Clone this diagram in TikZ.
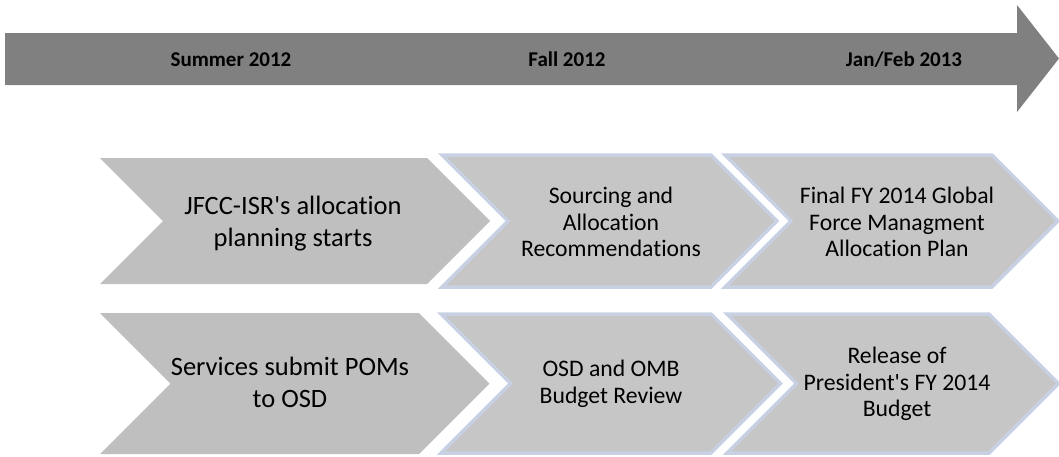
\documentclass[tikz,border=0pt]{standalone}
\usepackage{fontspec}
\setmainfont{Carlito}[Ligatures={NoCommon}]

\begin{document}
\begin{tikzpicture}[x=1pt,y=-1pt,
        stage/.style={fill=color2},
        review/.style={fill=color3,draw=color4,line width=3.5pt,line join=miter},
        datetext/.style={anchor=base,font=\fontsize{21}{25}\selectfont\bfseries},
        bigtext/.style={align=center,font=\fontsize{26.5}{32}\selectfont},
        smalltext/.style={align=center,font=\fontsize{23.7}{26.5}\selectfont}]
            \definecolor{color1}{RGB}{128, 128, 128}
            \definecolor{color2}{RGB}{191, 191, 191}
            \definecolor{color3}{RGB}{198, 198, 198}
            \definecolor{color4}{RGB}{200, 209, 228}

            \useasboundingbox (0,0) rectangle (1059,456);

            % time line
            \fill[color=color1] (5,33) -- (1017,33) -- (1017,5) -- (1059,58.5) -- (1017,112) -- (1017,85) -- (5,85) -- cycle;

            \node[datetext] (summer) at (231,66) {Summer 2012};
            \node[datetext] (fall) at (567,66) {Fall 2012};
            \node[datetext] (janfeb) at (904,66) {Jan/Feb 2013};

            % first row
            \fill[stage] (100,158) -- (427,158) -- (490,221) -- (427,284) -- (100,284) -- (163,221) -- cycle;
            \filldraw[review] (442,155) -- (711,155) -- (777,221) -- (711,287) -- (442,287) -- (508,221) -- cycle;
            \filldraw[review] (725,155) -- (992,155) -- (1058,221) -- (992,287) -- (725,287) -- (791,221) -- cycle;

            \node[bigtext] (jfcc) at (293,224) {JFCC-ISR\textquotesingle s allocation\\planning starts};
            \node[smalltext] (sourcing) at (611,222) {Sourcing and\\Allocation\\Recommendations};
            \node[smalltext] (finalplan) at (897,222) {Final FY 2014 Global\\Force Managment\\Allocation Plan};

            % second row
            \fill[stage] (100,313) -- (419,313) -- (489.5,383.5) -- (419,454) -- (100,454) -- (170.5,383.5) -- cycle;
            \filldraw[review] (441,314) -- (711,314) -- (780.5,383.5) -- (711,453) -- (441,453) -- (510.5,383.5) -- cycle;
            \filldraw[review] (727,314) -- (989,314) -- (1058.5,383.5) -- (989,453) -- (727,453) -- (796.5,383.5) -- cycle;

            \node[bigtext] (services) at (290,382) {Services submit POMs\\to OSD};
            \node[smalltext] (budgetreview) at (611,384) {OSD and OMB\\Budget Review};
            \node[smalltext] (release) at (897,384) {Release of\\President\textquotesingle s FY 2014\\Budget};
\end{tikzpicture}
\end{document}
